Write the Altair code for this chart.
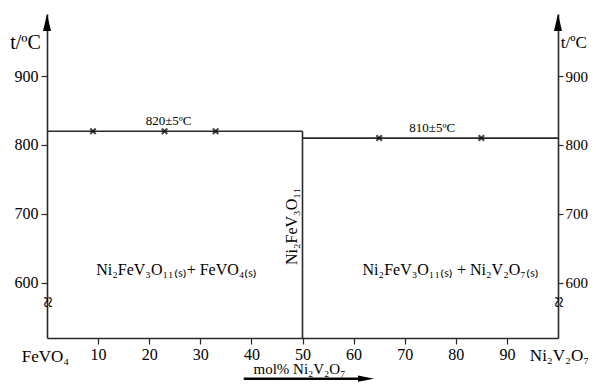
import altair as alt
import pandas as pd

# ---- data ----
x_ticks = [10, 20, 30, 40, 50, 60, 70, 80, 90]
y_ticks = [600, 700, 800, 900]
seg_x1 = [0, 50, 50]
seg_x2 = [50, 50, 100]
seg_y1 = [820, 520, 810]
seg_y2 = [820, 820, 810]
pt_x = [9, 23, 33, 65, 85]
pt_y = [820, 820, 820, 810, 810]

FONT = "Liberation Serif"
INK = "#2a2a2a"
xscale = alt.Scale(domain=[0, 100], nice=False, zero=False)
yscale = alt.Scale(domain=[520, 990], nice=False, zero=False)

xaxis = alt.Axis(values=x_ticks, title=None, grid=False, tickSize=6, labelPadding=2,
                 labelFont=FONT, labelFontSize=16, labelColor="black",
                 domainColor=INK, tickColor=INK, domainWidth=1.6, tickWidth=1.2, format="d")


def X(f, **kw):
    return alt.X(f, type="quantitative", scale=xscale, axis=xaxis, **kw)


def Y(f, axis=None, **kw):
    return alt.Y(f, type="quantitative", scale=yscale, axis=axis, **kw)


def yaxis(orient, fs, tick, pad):
    return alt.Axis(orient=orient, values=y_ticks, title=None, grid=False, tickSize=tick,
                    labelPadding=pad, labelFont=FONT, labelFontSize=fs, labelColor="black",
                    domainColor=INK, tickColor=INK, domainWidth=1.6, tickWidth=1.2, format="d")


ticks_df = pd.DataFrame({"x": [0] * len(y_ticks), "y": y_ticks})

left_axis = alt.Chart(ticks_df).mark_point(opacity=0).encode(
    x=X("x"), y=Y("y", axis=yaxis("left", 16, 6, 3)))
right_axis = alt.Chart(ticks_df).mark_point(opacity=0).encode(
    x=X("x"), y=Y("y", axis=yaxis("right", 15, 5, 2)))

seg_df = pd.DataFrame({"x": seg_x1, "x2": seg_x2, "y": seg_y1, "y2": seg_y2})
segments = alt.Chart(seg_df).mark_rule(color=INK, strokeWidth=1.6).encode(
    x=X("x"), x2="x2", y=Y("y"), y2="y2")

pts_df = pd.DataFrame({"x": pt_x, "y": pt_y})
points = alt.Chart(pts_df).mark_point(
    shape="M-1,-1L1,1M1,-1L-1,1", size=30, strokeWidth=2.2, color="black", filled=False
).encode(x=X("x"), y=Y("y"))

# axis arrows
arrow_up = "M0,0L0.47,2L-0.47,2Z"
arrow_right = "M0,0L-2,-0.4L-2,0.4Z"
up_df = pd.DataFrame({"x": [0, 100], "y": [990, 990]})
up_arrows = alt.Chart(up_df).mark_point(shape=arrow_up, size=289, filled=True, color="black",
                                        opacity=1, strokeWidth=0).encode(x=X("x"), y=Y("y"))
bar_df = pd.DataFrame({"x": [38.5], "x2": [62], "y": [461]})
bottom_bar = alt.Chart(bar_df).mark_rule(color="black", strokeWidth=2.5).encode(
    x=X("x"), x2="x2", y=Y("y"))
tip_df = pd.DataFrame({"x": [64], "y": [461]})
bottom_tip = alt.Chart(tip_df).mark_point(shape=arrow_right, size=256, filled=True, color="black",
                                          opacity=1, strokeWidth=0).encode(x=X("x"), y=Y("y"))

# annotations
ann = pd.DataFrame([
    {"t": "t/ºC", "x": -4.2, "y": 948, "fs": 20, "ang": 0},
    {"t": "t/ºC", "x": 103.1, "y": 948, "fs": 17, "ang": 0},
    {"t": "820±5ºC", "x": 23.8, "y": 835, "fs": 13, "ang": 0},
    {"t": "810±5ºC", "x": 75.4, "y": 825, "fs": 13, "ang": 0},
    {"t": "Ni₂FeV₃O₁₁₍ₛ₎+ FeVO₄₍ₛ₎", "x": 25.4, "y": 619, "fs": 16, "ang": 0},
    {"t": "Ni₂FeV₃O₁₁₍ₛ₎ + Ni₂V₂O₇₍ₛ₎", "x": 79, "y": 619, "fs": 16, "ang": 0},
    {"t": "Ni₂FeV₃O₁₁", "x": 47.9, "y": 682, "fs": 16, "ang": 270},
    {"t": "FeVO₄", "x": -0.3, "y": 493, "fs": 17, "ang": 0},
    {"t": "Ni₂V₂O₇", "x": 100.3, "y": 494, "fs": 17, "ang": 0},
    {"t": "mol% Ni₂V₂O₇", "x": 49.4, "y": 474.5, "fs": 15, "ang": 0},
    {"t": "≈", "x": 0, "y": 572, "fs": 21, "ang": 90},
    {"t": "≈", "x": 100, "y": 572, "fs": 21, "ang": 90},
])
texts = alt.Chart(ann).mark_text(font=FONT, color="black", align="center", baseline="middle").encode(
    x=X("x"), y=Y("y"), text="t:N",
    size=alt.Size("fs:Q", scale=None), angle=alt.Angle("ang:Q", scale=None))

chart = alt.layer(left_axis, right_axis, segments, points, up_arrows, bottom_bar, bottom_tip, texts
                  ).resolve_scale(y="independent").properties(
    width=511, height=324,
    autosize=alt.AutoSizeParams(type="none"),
    padding={"left": 39, "top": 6, "right": 30, "bottom": 44},
    background="white",
).configure_view(stroke=None)

chart.save("out.html", embed_options={"renderer": "svg", "actions": False})
